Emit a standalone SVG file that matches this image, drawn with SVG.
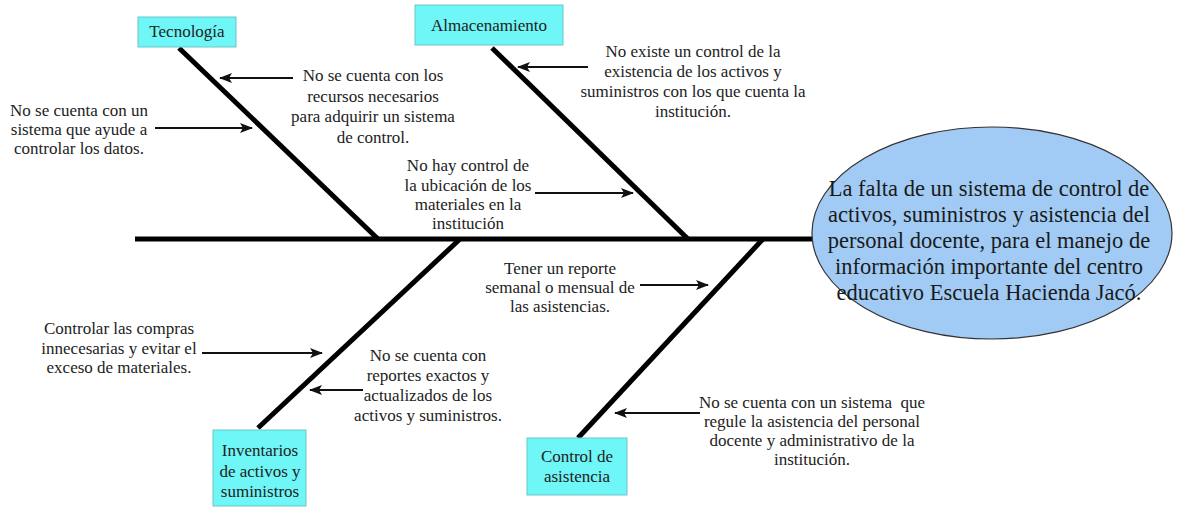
<svg xmlns="http://www.w3.org/2000/svg" width="1177" height="507" viewBox="0 0 1177 507">
<style>
.t{font-family:"Liberation Serif","Times New Roman",serif;font-size:17px;fill:#222;text-anchor:middle}
.bt{font-family:"Liberation Serif","Times New Roman",serif;font-size:17px;fill:#222;text-anchor:middle}
.et{font-family:"Liberation Serif","Times New Roman",serif;font-size:22.5px;fill:#1a1a1a;text-anchor:middle}
.box{fill:#6ff6f6;stroke:#6cc5c5;stroke-width:1}
.bone{stroke:#000;stroke-width:5;stroke-linecap:butt;fill:none}
.arr{stroke:#111;stroke-width:2;fill:none;marker-end:url(#ah)}
</style>
<defs>
<marker id="ah" viewBox="0 0 13 10" refX="12" refY="5" markerWidth="13" markerHeight="10" markerUnits="userSpaceOnUse" orient="auto">
<path d="M0,0 L13,5 L0,10 L3,5 Z" fill="#111"/>
</marker>
</defs>
<rect width="1177" height="507" fill="#fff"/>
<g id="connectors">
<line class="bone" x1="135" y1="239" x2="815" y2="239"/>
<line class="bone" x1="179" y1="48" x2="378" y2="239"/>
<line class="bone" x1="492" y1="48" x2="688" y2="239"/>
<line class="bone" x1="460" y1="239" x2="258" y2="428"/>
<line class="bone" x1="763" y1="239" x2="578" y2="438"/>
<line class="arr" x1="293" y1="78" x2="220" y2="78"/>
<line class="arr" x1="155" y1="128" x2="252" y2="128"/>
<line class="arr" x1="588" y1="67" x2="518" y2="67"/>
<line class="arr" x1="535" y1="193" x2="633" y2="193"/>
<line class="arr" x1="640" y1="285" x2="708" y2="285"/>
<line class="arr" x1="202" y1="353" x2="322" y2="353"/>
<line class="arr" x1="363" y1="390" x2="310" y2="390"/>
<line class="arr" x1="700" y1="413" x2="615" y2="413"/>
</g>
<g id="problem">
<ellipse cx="992" cy="233" rx="180" ry="106" fill="#a1cbf4" stroke="#333" stroke-width="1.2"/>
<text class="et"><tspan x="989" y="196">La falta de un sistema de control de</tspan><tspan x="989" y="222">activos, suministros y asistencia del</tspan><tspan x="989" y="248">personal docente, para el manejo de</tspan><tspan x="989" y="274">información importante del centro</tspan><tspan x="989" y="300">educativo Escuela Hacienda Jacó.</tspan></text>
</g>
<g id="tecnologia">
<rect class="box" x="138" y="17" width="98" height="30"/>
<text class="bt" x="187" y="37">Tecnología</text>
</g>
<g id="almacenamiento">
<rect class="box" x="415" y="5" width="148" height="40"/>
<text class="bt" x="489" y="31">Almacenamiento</text>
</g>
<g id="inventarios">
<rect class="box" x="213" y="430" width="93" height="76"/>
<text class="bt"><tspan x="260" y="456">Inventarios</tspan><tspan x="260" y="477">de activos y</tspan><tspan x="260" y="497">suministros</tspan></text>
</g>
<g id="control-asistencia">
<rect class="box" x="527" y="438" width="100" height="57"/>
<text class="bt"><tspan x="577" y="462">Control de</tspan><tspan x="577" y="482">asistencia</tspan></text>
</g>
<g id="c1">
<text class="t"><tspan x="373" y="81">No se cuenta con los</tspan><tspan x="373" y="102">recursos necesarios</tspan><tspan x="373" y="122">para adquirir un sistema</tspan><tspan x="373" y="143">de control.</tspan></text>
</g>
<g id="c2">
<text class="t"><tspan x="79" y="116">No se cuenta con un</tspan><tspan x="79" y="135">sistema que ayude a</tspan><tspan x="79" y="154">controlar los datos.</tspan></text>
</g>
<g id="c3">
<text class="t"><tspan x="693" y="57">No existe un control de la</tspan><tspan x="693" y="77">existencia de los activos y</tspan><tspan x="693" y="97">suministros con los que cuenta la</tspan><tspan x="693" y="117">institución.</tspan></text>
</g>
<g id="c4">
<text class="t"><tspan x="468" y="171">No hay control de</tspan><tspan x="468" y="191">la ubicación de los</tspan><tspan x="468" y="210">materiales en la</tspan><tspan x="468" y="229">institución</tspan></text>
</g>
<g id="c5">
<text class="t"><tspan x="560" y="274">Tener un reporte</tspan><tspan x="560" y="293">semanal o mensual de</tspan><tspan x="560" y="312">las asistencias.</tspan></text>
</g>
<g id="c6">
<text class="t"><tspan x="119" y="334">Controlar las compras</tspan><tspan x="119" y="354">innecesarias y evitar el</tspan><tspan x="119" y="373">exceso de materiales.</tspan></text>
</g>
<g id="c7">
<text class="t"><tspan x="428" y="361">No se cuenta con</tspan><tspan x="428" y="381">reportes exactos y</tspan><tspan x="428" y="401">actualizados de los</tspan><tspan x="428" y="421">activos y suministros.</tspan></text>
</g>
<g id="c8">
<text class="t" xml:space="preserve"><tspan x="812" y="408">No se cuenta con un sistema  que</tspan><tspan x="812" y="427">regule la asistencia del personal</tspan><tspan x="812" y="446">docente y administrativo de la</tspan><tspan x="812" y="465">institución.</tspan></text>
</g>
</svg>
